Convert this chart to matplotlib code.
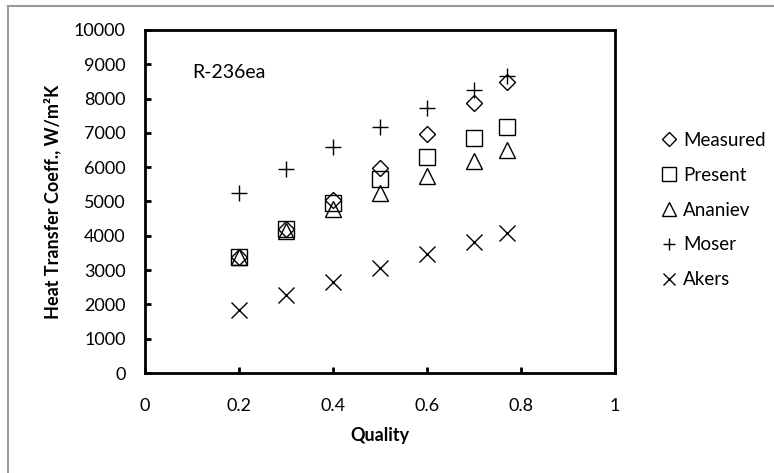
import matplotlib
matplotlib.use("Agg")
import matplotlib.pyplot as plt
from matplotlib.lines import Line2D

plt.rcParams['font.family'] = ['Lato', 'DejaVu Sans']

# ==== Data ====
quality = [0.2, 0.3, 0.4, 0.5, 0.6, 0.7, 0.77]
measured = [3380, 4190, 5040, 5970, 6980, 7870, 8480]
present = [3380, 4200, 4970, 5660, 6290, 6840, 7180]
ananiev = [3370, 4150, 4770, 5240, 5740, 6190, 6500]
moser = [5260, 5950, 6580, 7160, 7720, 8250, 8660]
akers = [1840, 2270, 2660, 3050, 3460, 3830, 4070]

series = [
    ("Measured", measured, "D", 8.5),
    ("Present", present, "s", 12),
    ("Ananiev", ananiev, "^", 12),
    ("Moser", moser, "+", 11),
    ("Akers", akers, "x", 11),
]

xticks = [0, 0.2, 0.4, 0.6, 0.8, 1]
xtick_labels = ["0", "0.2", "0.4", "0.6", "0.8", "1"]
yticks = list(range(0, 10001, 1000))

# ==== Figure ====
fig = plt.figure(figsize=(7.74, 4.73), dpi=100)
ax = fig.add_axes([145 / 774, 1 - 373 / 473, 470 / 774, 343 / 473])

for name, vals, mk, ms in series:
    ax.plot(quality, vals, linestyle="none", marker=mk, markersize=ms,
            markerfacecolor="none", markeredgecolor="black",
            markeredgewidth=1.0, color="black", label=name, clip_on=False)

ax.set_xlim(0, 1)
ax.set_ylim(0, 10000)
ax.set_xticks(xticks)
ax.set_xticklabels(xtick_labels)
ax.set_yticks(yticks)

for sp in ax.spines.values():
    sp.set_linewidth(2)
ax.tick_params(direction="in", length=4, width=2, labelsize=13, colors="black")
ax.tick_params(axis="y", pad=14)
ax.tick_params(axis="x", pad=18)

ax.set_xlabel("Quality", fontsize=13, fontweight="bold", labelpad=9)
ax.set_ylabel("Heat Transfer Coeff., W/m²K", fontsize=13, fontweight="bold", labelpad=9)

ax.text(0.1, 8750, "R-236ea", fontsize=14, ha="left", va="center")

fig.legend(loc="center left", bbox_to_anchor=(644 / 774, 1 - 210 / 473),
           frameon=False, fontsize=13.5, handlelength=0.9, handletextpad=0.3,
           labelspacing=0.95, markerscale=0.85)

# grey border on top and left like the screenshot
fig.add_artist(Line2D([8 / 774, 8 / 774], [0, 1 - 6 / 473], transform=fig.transFigure,
                      color="#999999", linewidth=1.5))
fig.add_artist(Line2D([8 / 774, 1], [1 - 6 / 473, 1 - 6 / 473], transform=fig.transFigure,
                      color="#999999", linewidth=1.5))

fig.savefig("out.png", dpi=100)
